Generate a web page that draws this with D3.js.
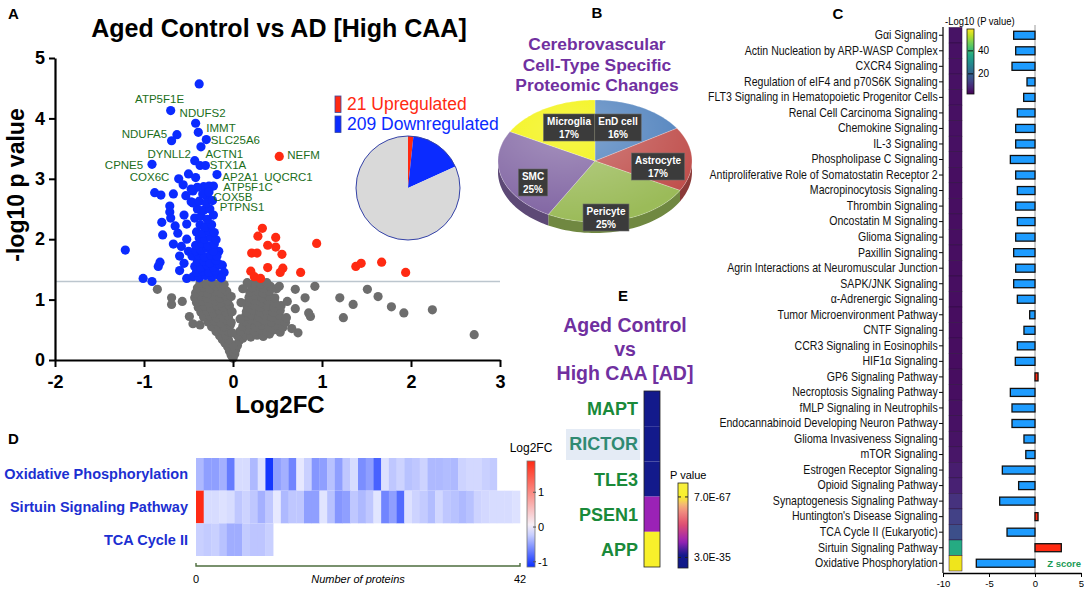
<!DOCTYPE html>
<html>
<head>
<meta charset="utf-8">
<script src="https://cdn.jsdelivr.net/npm/d3@7"></script>
<style>
  body { margin: 0; background: #fff; }
  svg { font-family: "Liberation Sans", Arial, sans-serif; }
  .panel { font-size: 15px; font-weight: bold; }
</style>
</head>
<body>
<svg width="1084" height="590"></svg>
<script>
const svg = d3.select('svg');

// ---------- data ----------
// A: volcano, [log2FC, -log10 p]
const volcanoGray = [
  [0.00,0.03],[-0.02,0.08],[0.02,0.10],[-0.04,0.15],[0.03,0.17],[-0.06,0.22],[0.05,0.24],[-0.09,0.28],[0.00,0.25],
  [-0.12,0.34],[-0.05,0.33],[0.07,0.32],[0.11,0.36],[-0.15,0.40],[-0.08,0.41],[0.05,0.40],[0.14,0.42],[0.20,0.38],[0.27,0.41],[0.34,0.39],[0.41,0.43],
  [-0.19,0.47],[-0.12,0.49],[-0.05,0.47],[0.08,0.48],[0.17,0.50],[0.24,0.47],[0.31,0.50],[0.38,0.47],[0.46,0.50],[0.53,0.46],
  [-0.24,0.55],[-0.17,0.57],[-0.10,0.55],[-0.03,0.58],[0.11,0.56],[0.18,0.59],[0.25,0.55],[0.32,0.58],[0.40,0.55],[0.48,0.58],[0.56,0.54],
  [-0.28,0.63],[-0.21,0.65],[-0.14,0.62],[-0.07,0.66],[0.13,0.64],[0.20,0.67],[0.28,0.63],[0.35,0.66],[0.43,0.63],[0.51,0.66],[0.59,0.62],
  [-0.33,0.71],[-0.26,0.73],[-0.19,0.70],[-0.12,0.74],[-0.05,0.71],[0.14,0.72],[0.21,0.75],[0.29,0.71],[0.36,0.74],[0.44,0.71],[0.52,0.74],[0.60,0.70],
  [-0.36,0.79],[-0.29,0.81],[-0.22,0.78],[-0.15,0.82],[-0.08,0.79],[0.15,0.80],[0.22,0.83],[0.30,0.79],[0.37,0.82],[0.45,0.79],[0.53,0.82],
  [-0.39,0.87],[-0.32,0.89],[-0.25,0.86],[-0.18,0.90],[-0.11,0.87],[-0.04,0.90],[0.16,0.88],[0.23,0.91],[0.31,0.87],[0.38,0.90],[0.46,0.87],[0.54,0.90],
  [-0.41,0.95],[-0.34,0.97],[-0.27,0.94],[-0.20,0.98],[-0.13,0.95],[-0.06,0.98],[0.17,0.96],[0.24,0.99],[0.32,0.95],[0.39,0.98],[0.47,0.95],
  [-0.43,1.03],[-0.36,1.05],[-0.29,1.02],[-0.22,1.06],[-0.15,1.03],[-0.08,1.06],[0.18,1.04],[0.25,1.07],[0.33,1.03],[0.40,1.06],[0.47,1.03],
  [-0.42,1.11],[-0.35,1.13],[-0.28,1.10],[-0.21,1.14],[-0.14,1.11],[-0.07,1.14],[0.19,1.12],[0.26,1.15],[0.34,1.11],[0.41,1.14],
  [-0.40,1.19],[-0.33,1.21],[-0.26,1.18],[-0.19,1.22],[-0.12,1.19],[0.21,1.20],[0.28,1.23],[0.35,1.19],[0.42,1.22],
  [-0.37,1.27],[-0.30,1.26],[-0.23,1.28],[-0.16,1.27],[-0.10,1.25],[0.24,1.27],[0.31,1.26],[0.38,1.28],
  [-0.01,0.45],[-0.02,0.62],[0.08,0.68],[-0.01,0.80],[0.09,0.95],[-0.02,1.05],[0.11,1.18],[0.16,1.28],[0.49,1.18],
  [-0.85,1.17],[-0.69,1.03],[-0.69,0.92],[-0.57,0.97],[-0.49,0.72],[-0.45,0.60],[-0.37,0.58],
  [0.52,1.22],[0.70,1.17],[0.92,1.22],[0.61,0.97],[0.81,1.03],[0.87,0.72],[0.73,0.45],[0.66,0.52],[0.85,0.78],[0.70,0.85],
  [1.20,1.03],[1.35,0.92],[1.24,0.70],[1.51,1.17],[1.63,1.05],[1.78,0.88],[1.92,0.78],[2.24,0.83],[2.71,0.42]
];
const volcanoBlue = [
  [-0.38,4.57],[-0.70,4.13],[-0.42,3.92],[-0.39,3.77],[-0.30,3.65],[-0.63,3.73],[-0.69,3.63],[-0.36,3.53],[-0.43,3.30],
  [-0.37,3.22],[-0.31,3.22],[-0.91,3.24],[-0.18,3.07],[-0.50,3.08],[-0.42,3.02],[-0.33,2.87],[-0.27,2.88],[-0.22,2.88],[-0.29,2.70],
  [-1.21,1.82],[-1.01,1.35],[-0.91,1.30],[-0.82,1.62],[-0.84,1.55],[-0.60,1.48],[-0.52,1.35],[-0.79,2.07],[-0.80,2.28],[-0.71,2.45],
  [-0.71,2.55],[-0.88,2.77],[-0.81,2.73],[-0.67,2.75],[-0.61,3.00],[-0.56,2.90],[-0.65,2.22],[-0.67,1.92],[-0.58,1.88],[-0.60,1.72],
  [-0.55,2.40],[-0.62,2.10],[-0.52,2.00],[-0.50,1.80],[-0.55,1.60],[-0.12,1.57],[-0.16,1.80],[-0.10,1.45],[-0.70,2.35],[-0.52,2.25],
  [-0.47,2.62],[-0.53,2.72],[-0.45,2.80],
  [-0.45,1.38],[-0.38,1.36],[-0.31,1.40],[-0.24,1.37],[-0.17,1.41],[-0.13,1.36],
  [-0.41,1.46],[-0.34,1.47],[-0.27,1.45],[-0.20,1.48],
  [-0.43,1.55],[-0.36,1.53],[-0.29,1.57],[-0.22,1.54],[-0.15,1.58],
  [-0.40,1.63],[-0.33,1.64],[-0.26,1.61],[-0.19,1.65],
  [-0.46,1.72],[-0.39,1.74],[-0.32,1.71],[-0.25,1.74],[-0.18,1.72],
  [-0.42,1.81],[-0.36,1.82],[-0.29,1.85],[-0.22,1.80],
  [-0.42,1.90],[-0.35,1.93],[-0.28,1.89],[-0.21,1.92],
  [-0.38,2.02],[-0.32,2.00],[-0.25,2.03],[-0.19,1.99],
  [-0.41,2.12],[-0.34,2.10],[-0.27,2.14],[-0.21,2.11],
  [-0.37,2.24],[-0.31,2.20],[-0.24,2.24],
  [-0.43,2.35],[-0.36,2.38],[-0.29,2.33],[-0.22,2.40],
  [-0.40,2.50],[-0.33,2.48],[-0.26,2.50],
  [-0.45,2.60],[-0.38,2.63],[-0.30,2.60],[-0.23,2.64],
  [-0.34,2.75],[-0.27,2.78],[-0.40,2.86],[-0.47,2.83]
];
const volcanoRed = [
  [0.52,3.37],[0.33,2.18],[0.28,2.05],[0.48,2.03],[0.39,1.90],[0.48,1.87],[0.21,1.77],[0.27,1.77],[0.55,1.75],[0.94,1.93],
  [0.39,1.53],[0.56,1.52],[0.53,1.45],[0.76,1.45],[0.20,1.47],[0.24,1.38],[0.31,1.35],[1.38,1.55],[1.44,1.60],[1.67,1.62],[1.94,1.45]
];
// gene name, text start (log2FC), text baseline (-log10 p)
const geneLabels = [
  ['ATP5F1E',-1.10,4.25],['NDUFS2',-0.60,4.02],['IMMT',-0.30,3.78],['NDUFA5',-1.25,3.67],['SLC25A6',-0.25,3.57],
  ['DYNLL2',-0.96,3.35],['ACTN1',-0.31,3.35],['NEFM',0.61,3.32],['CPNE5',-1.44,3.17],['STX1A',-0.26,3.16],
  ['AP2A1',-0.12,2.97],['UQCRC1',0.35,2.97],['COX6C',-1.16,2.97],['ATP5F1C',-0.11,2.80],['COX5B',-0.22,2.63],['PTPNS1',-0.15,2.46]
];
const regCounts = [21, 209, 1030];
const regLabels = ['21 Upregulated', '209 Downregulated'];

// B: cell-type shares
const cellTypes = ['EnD cell', 'Astrocyte', 'Pericyte', 'SMC', 'Microglia'];
const cellShares = [16, 17, 25, 25, 17];

// C: canonical pathways
const pathways = [
  'Gαi Signaling','Actin Nucleation by ARP-WASP Complex','CXCR4 Signaling','Regulation of eIF4 and p70S6K Signaling',
  'FLT3 Signaling in Hematopoietic Progenitor Cells','Renal Cell Carcinoma Signaling','Chemokine Signaling','IL-3 Signaling',
  'Phospholipase C Signaling','Antiproliferative Role of Somatostatin Receptor 2','Macropinocytosis Signaling','Thrombin Signaling',
  'Oncostatin M Signaling','Glioma Signaling','Paxillin Signaling','Agrin Interactions at Neuromuscular Junction','SAPK/JNK Signaling',
  'α-Adrenergic Signaling','Tumor Microenvironment Pathway','CNTF Signaling','CCR3 Signaling in Eosinophils','HIF1α Signaling',
  'GP6 Signaling Pathway','Necroptosis Signaling Pathway','fMLP Signaling in Neutrophils','Endocannabinoid Developing Neuron Pathway',
  'Glioma Invasiveness Signaling','mTOR Signaling','Estrogen Receptor Signaling','Opioid Signaling Pathway',
  'Synaptogenesis Signaling Pathway',"Huntington's Disease Signaling",'TCA Cycle II (Eukaryotic)','Sirtuin Signaling Pathway',
  'Oxidative Phosphorylation'
];
const zScores = [-2.32,-2.1,-2.5,-0.87,-1.23,-1.92,-2.1,-2.1,-2.68,-2.1,-1.92,-2.1,-1.92,-2.1,-2.32,-2.1,-2.32,-1.92,
  -0.58,-1.2,-1.92,-2.14,0.33,-2.68,-2.5,-2.5,-1.2,-1.0,-3.55,-1.78,-3.84,0.33,-3.04,2.86,-6.38];
const pathwayLogP = [5.2,5.1,5.0,5.0,4.9,4.9,4.8,4.8,4.8,4.7,4.7,4.7,4.6,4.6,4.6,4.5,4.5,4.5,4.4,4.4,4.4,4.3,4.3,
  4.6,4.8,5.0,5.3,5.6,7.0,7.6,10.5,13.5,16,37,57.5];
const logPTicks = [20, 40];

// D: Log2FC per protein
const heatRows = ['Oxidative Phosphorylation', 'Sirtuin Signaling Pathway', 'TCA Cycle II'];
const oxPhosFC = [-0.35,-0.5,-0.5,-0.4,-0.7,-0.15,-0.15,-0.35,-0.12,-1.1,-0.5,-0.4,-0.65,-0.08,-0.22,-0.55,-0.5,-0.3,-0.5,-0.27,
  -0.15,-0.6,-0.5,-0.85,-0.12,-0.27,-0.2,-0.3,-0.27,-0.2,-0.35,-0.35,-0.33,-0.35,-0.2,-0.17,-0.17,-0.22,-0.25];
const sirtuinFC = [1.9,-0.15,-0.15,-0.12,-0.15,-0.27,-0.2,-0.27,-0.4,-0.27,-0.08,-0.35,-0.27,-0.27,-0.5,-0.5,-0.1,-0.3,-0.55,-0.5,
  -0.27,-0.35,-0.27,-0.1,-0.65,-0.5,-0.8,-0.12,-0.2,-0.25,-0.33,-0.18,-0.27,-0.3,-0.35,-0.3,-0.2,-0.17,-0.15,-0.15,-0.15,-0.12];
const tcaFC = [-0.22,-0.25,-0.22,-0.3,-0.42,-0.42,-0.25,-0.28,-0.28,-0.22];
const fcTicks = [1, 0, -1];

// E: genes and -log10 p
const eGenes = ['MAPT', 'RICTOR', 'TLE3', 'PSEN1', 'APP'];
const eLogP = [34.5, 34.5, 34.5, 43, 66.5];
const eTickValues = [66.2, 34.5];
const eTickLabels = ['7.0E-67', '3.0E-35'];

const purple = '#7030a0';

// ---------- A: volcano plot ----------
const drawVolcano = () => {
  const x = d3.scaleLinear().domain([-2, 3]).range([55, 500]);
  const y = d3.scaleLinear().domain([0, 5]).range([360, 58]);
  const g = svg.append('g');

  g.append('text').attr('class', 'panel').attr('x', 8).attr('y', 19).text('A');
  g.append('text').attr('x', 279).attr('y', 37).attr('text-anchor', 'middle')
    .attr('font-size', 25).attr('font-weight', 'bold').text('Aged Control vs AD [High CAA]');

  g.append('line').attr('x1', x(-2)).attr('x2', x(3)).attr('y1', y(1.3)).attr('y2', y(1.3))
    .attr('stroke', '#bcc6ce').attr('stroke-width', 1.6);

  const dots = (data, color) => g.append('g').selectAll('circle').data(data).join('circle')
    .attr('cx', d => x(d[0])).attr('cy', d => y(d[1])).attr('r', 4.6).attr('fill', color);
  dots(volcanoGray, '#6d6d6d');
  dots(volcanoBlue, '#0b2bff');
  dots(volcanoRed, '#ff2a12');

  g.append('g').selectAll('text').data(geneLabels).join('text')
    .attr('x', d => x(d[1])).attr('y', d => y(d[2]))
    .attr('font-size', 11.5).attr('fill', '#1b6e1b').text(d => d[0]);

  const styleAxis = sel => {
    sel.select('.domain').attr('stroke-width', 2.2);
    sel.selectAll('.tick line').attr('stroke-width', 2);
    sel.selectAll('.tick text').attr('font-size', 18).attr('font-weight', 'bold')
      .attr('font-family', '"Liberation Sans", Arial, sans-serif');
  };
  g.append('g').attr('transform', `translate(0,${y(0)})`)
    .call(d3.axisBottom(x).ticks(5).tickFormat(d => d).tickSize(7).tickSizeOuter(0).tickPadding(8))
    .call(styleAxis);
  g.append('g').attr('transform', `translate(${x(-2)},0)`)
    .call(d3.axisLeft(y).ticks(5).tickFormat(d => d).tickSize(6).tickSizeOuter(0).tickPadding(4))
    .call(styleAxis);

  g.append('text').attr('transform', 'rotate(-90)').attr('x', -185).attr('y', 24)
    .attr('text-anchor', 'middle').attr('font-size', 23).attr('font-weight', 'bold').text('-log10 p value');
  g.append('text').attr('x', 280).attr('y', 413).attr('text-anchor', 'middle')
    .attr('font-size', 24).attr('font-weight', 'bold').text('Log2FC');

  // legend + mini pie
  const regColors = ['#ff2a12', '#0b2bff', '#d9d9d9'];
  regLabels.forEach((t, i) => {
    g.append('rect').attr('x', 335).attr('y', 96 + i * 20).attr('width', 6).attr('height', 16.5)
      .attr('fill', regColors[i]).attr('stroke', '#3a4aa0').attr('stroke-width', 0.8);
    g.append('text').attr('x', 347).attr('y', 110 + i * 20).attr('font-size', 17.5)
      .attr('fill', regColors[i]).text(t);
  });
  const pie = d3.pie().sort(null)(regCounts);
  const arc = d3.arc().innerRadius(0).outerRadius(52);
  const pg = g.append('g').attr('transform', 'translate(408,188)');
  pg.selectAll('path').data(pie).join('path').attr('d', arc).attr('fill', (d, i) => regColors[i]);
  pg.append('circle').attr('r', 52).attr('fill', 'none').attr('stroke', '#3442a8').attr('stroke-width', 1);
};

// ---------- B: 3D cell-type pie ----------
const drawCellPie = () => {
  const cx = 595, cy = 161, rx = 97, ry = 61, depth = 11;
  const colors = ['#4f81bd', '#c0504d', '#9bbb59', '#8064a2', '#f2f200'];
  const labelOffsets = [[23, -34], [63, 5], [11, 56], [-62, 21], [-26, -34]];
  const g = svg.append('g');

  g.append('text').attr('class', 'panel').attr('x', 597).attr('y', 18).attr('text-anchor', 'middle').text('B');
  ['Cerebrovascular', 'Cell-Type Specific', 'Proteomic Changes'].forEach((t, i) => {
    g.append('text').attr('x', 597).attr('y', 50 + i * 20.5).attr('text-anchor', 'middle')
      .attr('font-size', 17.4).attr('font-weight', 'bold').attr('fill', purple).text(t);
  });

  const arcs = d3.pie().sort(null)(cellShares);
  const pt = (a, dy) => [cx + rx * Math.sin(a), cy - ry * Math.cos(a) + dy];
  const edge = (a0, a1, dy) => d3.range(41).map(i => pt(a0 + (a1 - a0) * i / 40, dy));
  const line = d3.line();

  arcs.forEach((a, i) => {
    const s = Math.max(a.startAngle, Math.PI / 2), e = Math.min(a.endAngle, Math.PI * 1.5);
    if (e <= s) return;
    const pts = edge(s, e, 0).concat(edge(s, e, depth).reverse());
    g.append('path').attr('d', line(pts) + 'Z').attr('fill', d3.color(colors[i]).darker(0.9));
  });
  arcs.forEach((a, i) => {
    const pts = [[cx, cy]].concat(edge(a.startAngle, a.endAngle, 0));
    g.append('path').attr('d', line(pts) + 'Z').attr('fill', colors[i])
      .attr('stroke', 'rgba(255,255,255,0.4)').attr('stroke-width', 0.6);
  });

  const defs = svg.append('defs');
  const rg = defs.append('radialGradient').attr('id', 'gloss').attr('cx', '35%').attr('cy', '25%').attr('r', '75%');
  rg.append('stop').attr('offset', '0%').attr('stop-color', '#fff').attr('stop-opacity', 0.3);
  rg.append('stop').attr('offset', '100%').attr('stop-color', '#fff').attr('stop-opacity', 0);
  g.append('ellipse').attr('cx', cx).attr('cy', cy).attr('rx', rx).attr('ry', ry).attr('fill', 'url(#gloss)');

  cellTypes.forEach((t, i) => {
    const [dx, dy] = labelOffsets[i];
    const lg = g.append('g').attr('transform', `translate(${cx + dx},${cy + dy})`);
    const box = lg.append('rect').attr('fill', '#3b3b3b').attr('stroke', '#6a6a6a').attr('stroke-width', 0.6);
    const t1 = lg.append('text').attr('y', -2).attr('text-anchor', 'middle').attr('fill', '#fff')
      .attr('font-size', 10).attr('font-weight', 'bold').text(t);
    lg.append('text').attr('y', 11).attr('text-anchor', 'middle').attr('fill', '#fff')
      .attr('font-size', 10).attr('font-weight', 'bold').text(cellShares[i] + '%');
    const w = t1.node().getComputedTextLength() + 7;
    box.attr('x', -w / 2).attr('y', -13).attr('width', w).attr('height', 27);
  });
};

// ---------- C: pathways ----------
const drawPathways = () => {
  const y = d3.scaleBand().domain(pathways).range([27.5, 571]);
  const x = d3.scaleLinear().domain([-10, 5]).range([943, 1081]);
  const bw = y.bandwidth();
  const logPExtent = [2.5, 59];
  const heat = d3.scaleSequential(d3.interpolateViridis).domain(logPExtent);
  const g = svg.append('g');

  g.append('text').attr('class', 'panel').attr('x', 838).attr('y', 19).attr('text-anchor', 'middle').text('C');

  g.append('line').attr('x1', x(0)).attr('x2', x(0)).attr('y1', 25).attr('y2', 573)
    .attr('stroke', '#9a9a9a').attr('stroke-width', 1);

  g.append('g').selectAll('rect').data(pathways).join('rect')
    .attr('x', (d, i) => x(Math.min(0, zScores[i])))
    .attr('width', (d, i) => Math.abs(x(zScores[i]) - x(0)))
    .attr('y', d => y(d) + bw / 2 - 4).attr('height', 8)
    .attr('fill', (d, i) => zScores[i] > 0 ? '#ff2a12' : '#1e9cff')
    .attr('stroke', '#111').attr('stroke-width', 1.3);

  g.append('g').selectAll('rect').data(pathways).join('rect')
    .attr('x', 949).attr('width', 13).attr('y', d => y(d)).attr('height', bw)
    .attr('fill', (d, i) => heat(pathwayLogP[i]))
    .attr('stroke', '#2a0c3c').attr('stroke-width', 0.5);

  const ya = g.append('g').attr('transform', `translate(${x(-10)},0)`)
    .call(d3.axisLeft(y).tickSize(4).tickSizeOuter(0).tickPadding(2));
  ya.select('.domain').remove();
  ya.selectAll('.tick text').attr('font-size', 12).attr('fill', '#111')
    .attr('font-family', '"Liberation Sans", Arial, sans-serif').attr('transform', 'scale(0.88,1)');
  g.append('line').attr('x1', x(-10)).attr('x2', x(-10)).attr('y1', 27).attr('y2', 573)
    .attr('stroke', '#111').attr('stroke-width', 1.3);

  const xa = g.append('g').attr('transform', 'translate(0,573)')
    .call(d3.axisBottom(x).tickValues([-10, -5, 0, 5]).tickFormat(d => d).tickSize(4).tickSizeOuter(0));
  xa.select('.domain').attr('stroke-width', 1.5);
  xa.selectAll('.tick text').attr('font-size', 9.5).attr('font-family', '"Liberation Sans", Arial, sans-serif');

  g.append('text').attr('x', 1081).attr('y', 567).attr('text-anchor', 'end').attr('font-size', 9.5)
    .attr('font-weight', 'bold').attr('fill', '#1a9a55').text('Z score');

  // colour bar
  const defs = svg.append('defs');
  const lg = defs.append('linearGradient').attr('id', 'viridisBar').attr('x1', 0).attr('x2', 0).attr('y1', 1).attr('y2', 0);
  d3.range(11).forEach(i => lg.append('stop').attr('offset', i / 10).attr('stop-color', d3.interpolateViridis(i / 10)));
  const cy = d3.scaleLinear().domain(logPExtent).range([94, 29]);
  g.append('rect').attr('x', 967).attr('y', 29).attr('width', 7).attr('height', 65)
    .attr('fill', 'url(#viridisBar)').attr('stroke', '#111').attr('stroke-width', 0.8);
  logPTicks.forEach(v => {
    g.append('line').attr('x1', 968).attr('x2', 973).attr('y1', cy(v)).attr('y2', cy(v)).attr('stroke', '#111');
    g.append('text').attr('x', 978).attr('y', cy(v) + 3.5).attr('font-size', 10).text(v);
  });
  g.append('text').attr('transform', 'translate(945,25) scale(0.9,1)').attr('font-size', 10.5).text('-Log10 (P value)');
};

// ---------- D: Log2FC heatmap ----------
const drawHeatmap = () => {
  const x = d3.scaleLinear().domain([0, 42]).range([196, 520]);
  const y = d3.scaleBand().domain(heatRows).range([458, 556]);
  const fcExtent = [-1.15, 1.9];
  const color = d3.scaleLinear().domain([fcExtent[0], 0, fcExtent[1]]).range(['#0a2eff', '#f6f6ff', '#ff2a14']);
  const rows = [oxPhosFC, sirtuinFC, tcaFC];
  const g = svg.append('g');

  g.append('text').attr('class', 'panel').attr('x', 8).attr('y', 444).text('D');

  rows.forEach((vals, r) => {
    g.append('g').selectAll('rect').data(vals).join('rect')
      .attr('x', (d, i) => x(i)).attr('width', x(1) - x(0) + 0.3)
      .attr('y', y(heatRows[r])).attr('height', y.bandwidth())
      .attr('fill', d => color(d));
    g.append('text').attr('x', 188).attr('y', y(heatRows[r]) + y.bandwidth() / 2 + 5)
      .attr('text-anchor', 'end').attr('font-size', 14.5).attr('font-weight', 'bold')
      .attr('fill', '#1c2fd1').text(heatRows[r]);
  });

  g.append('path').attr('d', `M${x(0)},563V566H${x(42)}V563`).attr('fill', 'none')
    .attr('stroke', '#4e6e3e').attr('stroke-width', 1.4);
  g.append('text').attr('x', x(0)).attr('y', 583).attr('text-anchor', 'middle').attr('font-size', 11).text('0');
  g.append('text').attr('x', x(42)).attr('y', 583).attr('text-anchor', 'middle').attr('font-size', 11).text('42');
  g.append('text').attr('x', 358).attr('y', 583).attr('text-anchor', 'middle').attr('font-size', 11)
    .attr('font-style', 'italic').text('Number of proteins');

  // colour bar
  const defs = svg.append('defs');
  const lg = defs.append('linearGradient').attr('id', 'fcBar').attr('x1', 0).attr('x2', 0).attr('y1', 1).attr('y2', 0);
  d3.range(11).forEach(i => {
    const v = fcExtent[0] + (fcExtent[1] - fcExtent[0]) * i / 10;
    lg.append('stop').attr('offset', i / 10).attr('stop-color', color(v));
  });
  const cy = d3.scaleLinear().domain(fcExtent).range([567, 461]);
  g.append('rect').attr('x', 527).attr('y', 461).attr('width', 8).attr('height', 106)
    .attr('fill', 'url(#fcBar)').attr('stroke', '#777').attr('stroke-width', 0.8);
  fcTicks.forEach(v => {
    g.append('line').attr('x1', 533).attr('x2', 536).attr('y1', cy(v)).attr('y2', cy(v)).attr('stroke', '#555');
    g.append('text').attr('x', 538).attr('y', cy(v) + 4).attr('font-size', 11).text(v);
  });
  g.append('text').attr('x', 531).attr('y', 452).attr('text-anchor', 'middle').attr('font-size', 12).text('Log2FC');
};

// ---------- E: gene column ----------
const drawGeneColumn = () => {
  const y = d3.scaleBand().domain(eGenes).range([391, 567]);
  const pExtent = [29, 73.5];
  const color = d3.scaleLinear()
    .domain([29, 36, 43, 52, 59, 63, 66, 73.5])
    .range(['#0f1888', '#141a8c', '#9b22b6', '#e05070', '#f29080', '#f6c070', '#f8f02a', '#f8f040']);
  const g = svg.append('g');

  g.append('text').attr('class', 'panel').attr('x', 623).attr('y', 301).attr('text-anchor', 'middle').text('E');
  ['Aged Control', 'vs', 'High CAA [AD]'].forEach((t, i) => {
    g.append('text').attr('x', 625).attr('y', 332 + i * 24).attr('text-anchor', 'middle')
      .attr('font-size', 19.5).attr('font-weight', 'bold').attr('fill', purple).text(t);
  });

  g.append('rect').attr('x', 566).attr('y', 429).attr('width', 74).attr('height', 31).attr('fill', '#e4ebf5');

  g.append('g').selectAll('rect').data(eGenes).join('rect')
    .attr('x', 644).attr('width', 16).attr('y', d => y(d)).attr('height', y.bandwidth())
    .attr('fill', (d, i) => color(eLogP[i]));
  g.append('rect').attr('x', 644).attr('y', 391).attr('width', 16).attr('height', 176)
    .attr('fill', 'none').attr('stroke', '#222').attr('stroke-width', 0.8);

  g.append('g').selectAll('text').data(eGenes).join('text')
    .attr('x', 638).attr('y', d => y(d) + y.bandwidth() / 2 + 6.5).attr('text-anchor', 'end')
    .attr('font-size', 18).attr('font-weight', 'bold')
    .attr('fill', d => d === 'RICTOR' ? '#2f8a72' : '#1a8a3a').text(d => d);

  // colour bar
  const defs = svg.append('defs');
  const lg = defs.append('linearGradient').attr('id', 'pBar').attr('x1', 0).attr('x2', 0).attr('y1', 1).attr('y2', 0);
  d3.range(21).forEach(i => {
    const v = pExtent[0] + (pExtent[1] - pExtent[0]) * i / 20;
    lg.append('stop').attr('offset', i / 20).attr('stop-color', color(v));
  });
  const cy = d3.scaleLinear().domain(pExtent).range([568, 483]);
  g.append('rect').attr('x', 678).attr('y', 483).attr('width', 10).attr('height', 85)
    .attr('fill', 'url(#pBar)').attr('stroke', '#222').attr('stroke-width', 0.8);
  eTickValues.forEach((v, i) => {
    g.append('line').attr('x1', 678).attr('x2', 681).attr('y1', cy(v)).attr('y2', cy(v)).attr('stroke', '#222');
    g.append('line').attr('x1', 685).attr('x2', 688).attr('y1', cy(v)).attr('y2', cy(v)).attr('stroke', '#222');
    g.append('text').attr('x', 694).attr('y', cy(v) + 4).attr('font-size', 10.5).text(eTickLabels[i]);
  });
  g.append('text').attr('x', 670).attr('y', 479).attr('font-size', 11).text('P value');
};

drawVolcano();
drawCellPie();
drawPathways();
drawHeatmap();
drawGeneColumn();
</script>
</body>
</html>
